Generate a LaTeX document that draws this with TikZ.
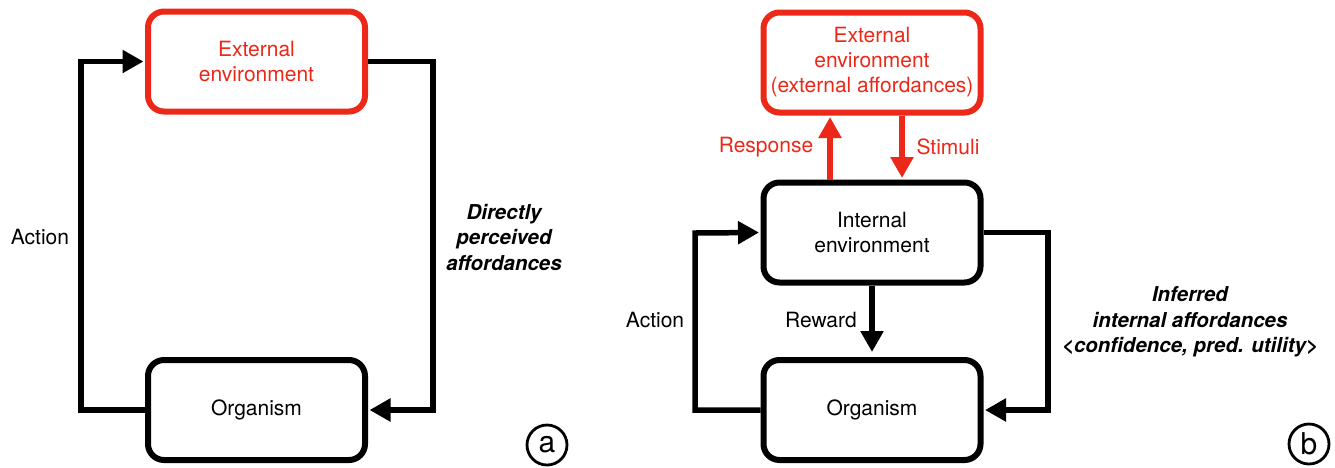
\documentclass[tikz,border=0pt]{standalone}
\usepackage{fontspec}
\setmainfont{TeX Gyre Heros}
\usetikzlibrary{arrows.meta,calc}
\definecolor{envred}{RGB}{236,40,24}
\begin{document}
\begin{tikzpicture}[x=1pt,y=-1pt,
  box/.style={draw, line width=6pt, rounded corners=16pt, minimum width=217pt, minimum height=100pt, inner sep=0pt, align=center, font=\fontsize{21}{25}\selectfont},
  redbox/.style={box, draw=envred, text=envred},
  conn/.style={line width=5.5pt, -{Triangle[length=21pt,width=22pt]}, shorten >=1.5pt},
  redconn/.style={conn, draw=envred, -{Triangle[length=21pt,width=22pt,fill=envred]}},
  lbl/.style={inner sep=0pt, align=center, font=\fontsize{21}{25}\selectfont},
  redlbl/.style={lbl, text=envred},
  bilbl/.style={inner sep=0pt, align=center, font=\fontsize{20.5}{25.5}\selectfont\bfseries\itshape},
  circ/.style={draw, circle, line width=2.8pt, minimum size=40pt, inner sep=0pt, font=\fontsize{30}{30}\selectfont}
]
\path[fill=white,use as bounding box] (0,0) rectangle (1335,467);

% ---------- panel (a) ----------
\node[redbox] (extA) at (256.5,61.5) {External\\environment};
\node[box] (orgA) at (256.5,410) {Organism};
\coordinate (la) at (81,61.5);
\coordinate (ra) at (433,410);
\draw[conn] (orgA.west) -| (la) -- (extA.west);
\draw[conn] (extA.east) -| (ra) -- (orgA.east);
\node[lbl] (actA) at (40,237) {Action};
\node[bilbl] (dirA) at (504,237) {Directly\\perceived\\affordances};
\node[circ] (ca) at (547,445) {a};

% ---------- panel (b) ----------
\node[redbox] (extB) at (872,62.5) {External\\environment\\(external affordances)};
\node[box] (intB) at (872,232.5) {Internal\\environment};
\node[box] (orgB) at (872,410) {Organism};
\coordinate (rs) at ($(intB.north)+(-42,0)$);
\coordinate (st) at ($(extB.south)+(30,0)$);
\draw[redconn] (rs) -- (rs |- extB.south);
\draw[redconn] (st) -- (st |- intB.north);
\draw[conn, shorten >=5pt] (intB.south) -- (orgB.north);
\coordinate (lb) at (695,233);
\coordinate (rb) at (1048,410);
\draw[conn] (orgB.west) -| (lb) -- (intB.west);
\draw[conn] (intB.east) -| (rb) -- (orgB.east);
\node[redlbl] (resp) at (766,147) {Response};
\node[redlbl] (stim) at (948,147) {Stimuli};
\node[lbl] (rew) at (821,320) {Reward};
\node[lbl] (actB) at (655,320) {Action};
\node[bilbl] (infB) at (1190,322) {Inferred\\internal affordances\\<confidence, pred. utility>};
\node[circ] (cb) at (1309,444) {b};
\end{tikzpicture}
\end{document}
